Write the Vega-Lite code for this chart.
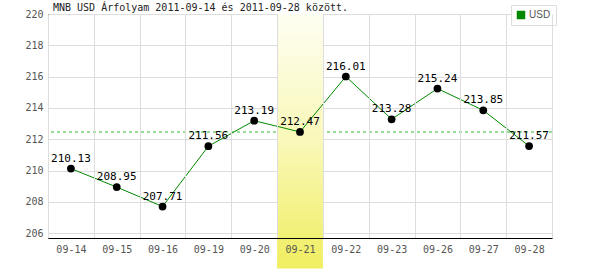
{
  "$schema": "https://vega.github.io/schema/vega-lite/v6.json",
  "width": 504,
  "height": 224,
  "autosize": {"type": "none"},
  "padding": {"left": 48, "top": 14, "right": 48, "bottom": 32},
  "background": "white",
  "title": {
    "text": "MNB USD Árfolyam 2011-09-14 és 2011-09-28 között.",
    "anchor": "start",
    "frame": "group",
    "dx": 5,
    "offset": -8,
    "font": "DejaVu Sans Mono",
    "fontSize": 10,
    "fontWeight": "normal",
    "color": "#222"
  },
  "config": {
    "view": {"stroke": null},
    "axis": {"labelFont": "DejaVu Sans Mono", "labelFontSize": 10, "labelColor": "#555", "gridColor": "#dddddd", "gridWidth": 1}
  },
  "datasets": {
    "rates": [
      {"date": "09-14", "rate": 210.13, "cur": "USD"},
      {"date": "09-15", "rate": 208.95, "cur": "USD"},
      {"date": "09-16", "rate": 207.71, "cur": "USD"},
      {"date": "09-19", "rate": 211.56, "cur": "USD"},
      {"date": "09-20", "rate": 213.19, "cur": "USD"},
      {"date": "09-21", "rate": 212.47, "cur": "USD"},
      {"date": "09-22", "rate": 216.01, "cur": "USD"},
      {"date": "09-23", "rate": 213.28, "cur": "USD"},
      {"date": "09-26", "rate": 215.24, "cur": "USD"},
      {"date": "09-27", "rate": 213.85, "cur": "USD"},
      {"date": "09-28", "rate": 211.57, "cur": "USD"}
    ],
    "band": [{"date": "09-21", "top": 220, "bottom": 203.75}]
  },
  "data": {"name": "rates"},
  "encoding": {
    "x": {
      "field": "date",
      "type": "ordinal",
      "sort": ["09-14", "09-15", "09-16", "09-19", "09-20", "09-21", "09-22", "09-23", "09-26", "09-27", "09-28"],
      "scale": {"paddingInner": 0, "paddingOuter": 0},
      "axis": {"title": null, "labelAngle": 0, "ticks": false, "tickBand": "extent", "grid": true, "domainColor": "#000", "domainWidth": 1, "labelPadding": 6, "zindex": 1}
    },
    "y": {
      "field": "rate",
      "type": "quantitative",
      "scale": {"domain": [205.7, 220], "nice": false, "zero": false},
      "axis": {"title": null, "values": [206, 208, 210, 212, 214, 216, 218, 220], "ticks": false, "grid": true, "domainColor": "#000", "labelPadding": 5, "zindex": 0}
    }
  },
  "layer": [
    {
      "mark": {"type": "rule", "stroke": "#99dd99", "strokeDash": [3, 3], "strokeWidth": 1},
      "encoding": {"x": null, "y": {"datum": 212.47}}
    },
    {
      "data": {"name": "band"},
      "mark": {
        "type": "rect",
        "clip": false,
        "fill": {
          "gradient": "linear",
          "x1": 0, "y1": 0, "x2": 0, "y2": 1,
          "stops": [
            {"offset": 0, "color": "#fefef2"},
            {"offset": 0.5, "color": "#f9f8b8"},
            {"offset": 1, "color": "#f0ee60"}
          ]
        }
      },
      "encoding": {
        "y": {"field": "top", "type": "quantitative"},
        "y2": {"field": "bottom"}
      }
    },
    {
      "mark": {"type": "line", "strokeWidth": 1},
      "encoding": {
        "color": {
          "field": "cur",
          "type": "nominal",
          "scale": {"range": ["#008800"]},
          "legend": {
            "title": null,
            "orient": "none",
            "legendX": 463,
            "legendY": -9,
            "padding": 5,
            "strokeColor": "#dddddd",
            "fillColor": "white",
            "symbolType": "square",
            "symbolFillColor": "#008800",
            "symbolStrokeColor": "#333",
            "symbolStrokeWidth": 0.5,
            "symbolSize": 64,
            "labelFont": "Liberation Sans",
            "labelFontSize": 10,
            "labelColor": "#555",
            "labelOffset": 3
          }
        }
      }
    },
    {
      "mark": {"type": "point", "filled": true, "color": "#000", "size": 60, "opacity": 1}
    },
    {
      "mark": {"type": "text", "dy": -7, "baseline": "alphabetic", "font": "DejaVu Sans Mono", "fontSize": 11, "color": "#000"},
      "encoding": {"text": {"field": "rate", "type": "quantitative", "format": ".2f"}}
    }
  ]
}
